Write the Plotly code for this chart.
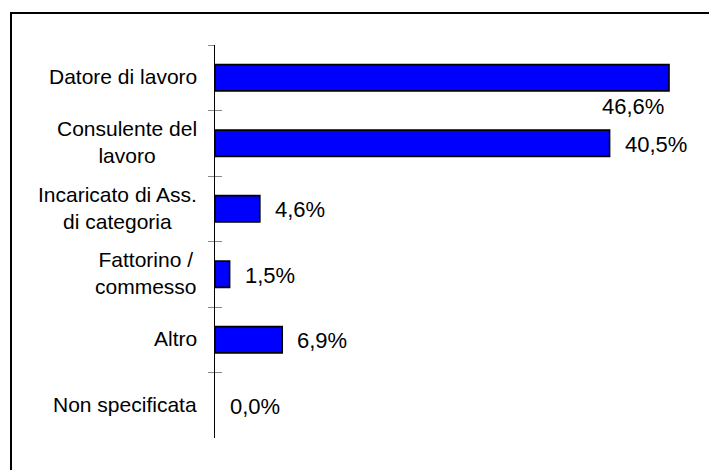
import plotly.graph_objects as go

categories = ["Datore di lavoro", "Consulente del<br>lavoro", "Incaricato di Ass.<br>di categoria",
              "Fattorino /<br>commesso", "Altro", "Non specificata"]
values = [46.6, 40.5, 4.6, 1.5, 6.9, 0.0]
labels = ["46,6%", "40,5%", "4,6%", "1,5%", "6,9%", "0,0%"]

W, H = 709, 470
L, T, B = 215, 45, 32
R_px = 685
xmax = 48.24
plot_w = R_px - L
plot_h = H - T - B

FONT = "Arial, Liberation Sans, sans-serif"
n = len(categories)
yrange = [n - 0.5, -0.5]

fig = go.Figure()
fig.add_trace(go.Bar(
    x=values, y=categories, orientation="h",
    marker=dict(color="#0000FF",
                line=dict(color="black", width=[1.6 if v > 0 else 0 for v in values])),
    width=0.4, yaxis="y", hoverinfo="skip",
))
fig.add_trace(go.Bar(
    x=[None]*n, y=categories, orientation="h",
    yaxis="y2", showlegend=False, hoverinfo="skip",
))

annotations = []
for i, (cat, v, lab) in enumerate(zip(categories, values, labels)):
    annotations.append(dict(xref="paper", x=0, y=cat, yref="y", text=cat, showarrow=False,
                            xanchor="right", align="center", xshift=-16, yshift=1,
                            font=dict(family=FONT, size=21, color="black")))
    if i == 0:
        annotations.append(dict(x=v, y=cat, text=lab, showarrow=False, xanchor="right",
                                xshift=-3, yshift=-29, font=dict(family=FONT, size=22, color="black")))
    else:
        annotations.append(dict(x=v, y=cat, text=lab, showarrow=False, xanchor="left",
                                xshift=13, yshift=-1, font=dict(family=FONT, size=22, color="black")))

def px_to_paper_x(px):
    return (px - L) / plot_w

def px_to_paper_y(py):
    return (H - B - py) / plot_h

fig.update_layout(
    width=W, height=H,
    margin=dict(l=L, r=W - R_px, t=T, b=B, autoexpand=False),
    paper_bgcolor="white", plot_bgcolor="white",
    showlegend=False,
    font=dict(family=FONT, size=21, color="black"),
    xaxis=dict(range=[0, xmax], visible=False, fixedrange=True),
    yaxis=dict(categoryorder="array", categoryarray=categories, range=yrange,
               showline=True, linecolor="black", linewidth=1,
               ticks="outside", ticklen=6, tickcolor="#888888", tickwidth=1,
               tickson="boundaries", showgrid=False, zeroline=False,
               showticklabels=False, automargin=False),
    yaxis2=dict(categoryorder="array", categoryarray=categories, range=yrange,
                overlaying="y", side="left",
                ticks="inside", ticklen=7, tickcolor="#888888", tickwidth=1,
                tickson="boundaries", showticklabels=False, showgrid=False,
                showline=False, zeroline=False, automargin=False),
    annotations=annotations,
    shapes=[dict(type="rect", xref="paper", yref="paper",
                 x0=px_to_paper_x(11), x1=px_to_paper_x(730),
                 y0=px_to_paper_y(490), y1=px_to_paper_y(13),
                 line=dict(color="black", width=2), fillcolor="rgba(0,0,0,0)", layer="above")],
)

fig.write_html("out.html")
